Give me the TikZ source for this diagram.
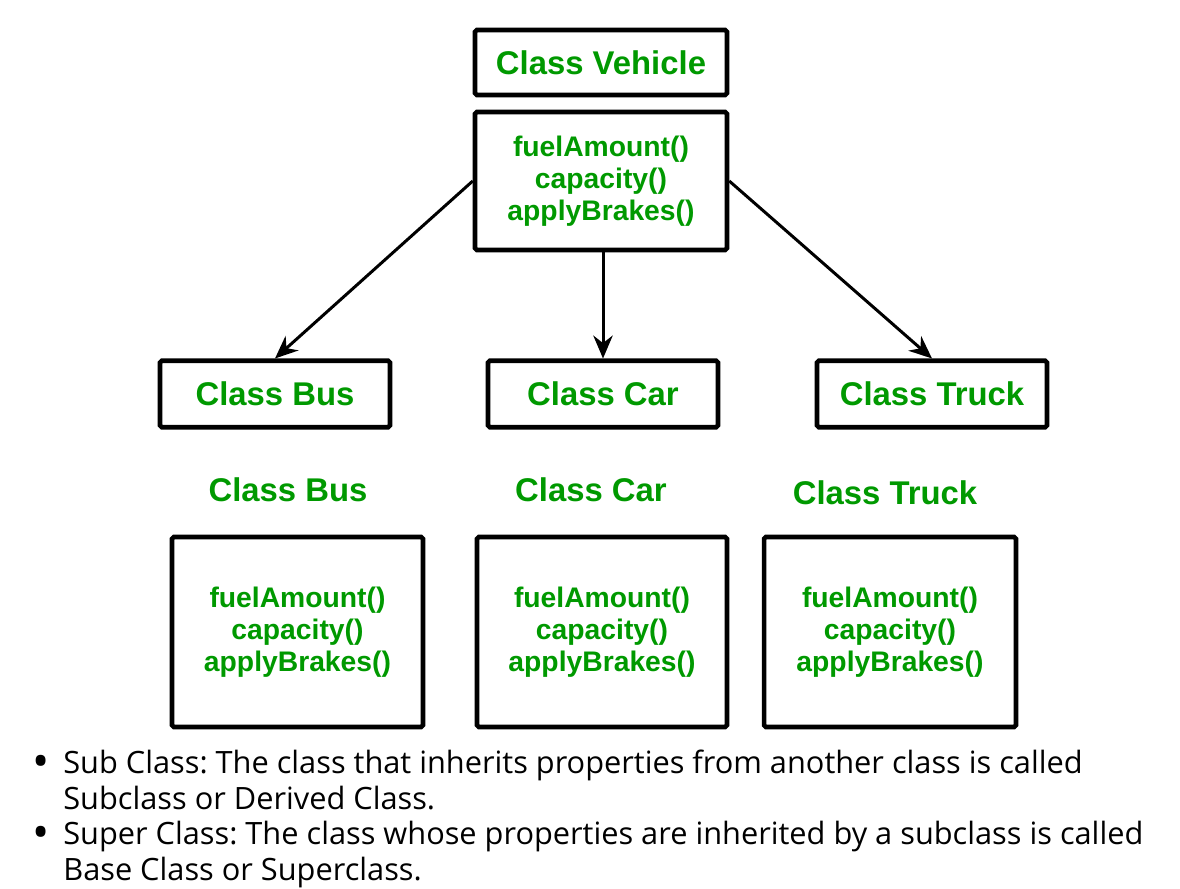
\documentclass[tikz,border=0pt]{standalone}
\usepackage{fontspec}
\setmainfont{Liberation Sans}
\newfontfamily\notefont{Open Sans}
\usetikzlibrary{arrows.meta}

\definecolor{classgreen}{RGB}{0,153,0}

\begin{document}
\frenchspacing
\begin{tikzpicture}[
        x=0.02cm, y=-0.02cm,
        box/.style={draw, line width=2.6pt, rounded corners=1pt, inner sep=0pt, align=center},
        class_box/.style={box, minimum height=1.33cm, font=\bfseries\fontsize{18.7}{22}\selectfont, text=classgreen},
        method_box/.style={box, font=\bfseries\fontsize{16.1}{18.1}\selectfont, text=classgreen},
        class_label/.style={font=\bfseries\fontsize{18.7}{22}\selectfont, text=classgreen},
        inherit/.style={-{Stealth[length=13pt, width=11pt]}, line width=1.7pt},
        note/.style={font=\notefont\fontsize{17.5}{20.4}\selectfont, align=left, inner sep=0pt},
        note_dot/.style={font=\notefont\fontsize{26}{26}\selectfont, inner sep=0pt},
    ]

    \useasboundingbox (0,0) rectangle (1180,889);

    % Methods shared by every class
    \def\methods{fuelAmount()\\capacity()\\applyBrakes()}

    % Base class
    \node[class_box, minimum width=5.04cm, minimum height=1.3cm] (vehicle) at (601,62.5) {Class Vehicle};
    \node[method_box, minimum width=5.04cm, minimum height=2.76cm] (vehicle_m) at (601,181) {\methods};

    % Sub classes
    \node[class_box, minimum width=4.6cm] (bus) at (275,394) {Class Bus};
    \node[class_box, minimum width=4.6cm] (car) at (603,394) {Class Car};
    \node[class_box, minimum width=4.6cm] (truck) at (932,394) {Class Truck};

    % Inheritance arrows
    \draw[inherit] (vehicle_m.west) -- (bus.north);
    \draw[inherit] (vehicle_m.south -| car.north) -- (car.north);
    \draw[inherit] (vehicle_m.east) -- (truck.north);

    % Sub classes with inherited methods
    \node[class_label] (bus_l) at (288,490) {Class Bus};
    \node[class_label] (car_l) at (591,490) {Class Car};
    \node[class_label] (truck_l) at (885,493) {Class Truck};

    \node[method_box, minimum width=5.02cm, minimum height=3.8cm] (bus_m) at (297.5,632) {\methods};
    \node[method_box, minimum width=5.0cm, minimum height=3.8cm] (car_m) at (602,632) {\methods};
    \node[method_box, minimum width=5.04cm, minimum height=3.8cm] (truck_m) at (890,632) {\methods};

    % Notes
    \node[note_dot] (dot_sub) at (41,766) {•};
    \node[note, anchor=north west] (sub) at (63,750) {Sub Class: The class that inherits properties from another class is called\\Subclass or Derived Class.};
    \node[note_dot] (dot_super) at (41,837) {•};
    \node[note, anchor=north west] (super) at (63,821) {Super Class: The class whose properties are inherited by a subclass is called\\Base Class or Superclass.};

\end{tikzpicture}
\end{document}
